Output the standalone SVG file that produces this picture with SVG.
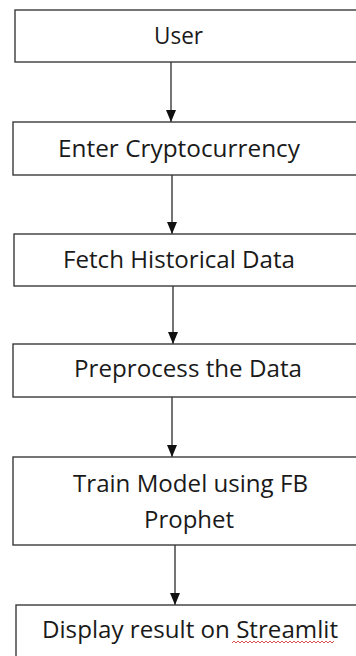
<svg xmlns="http://www.w3.org/2000/svg" width="356" height="656" viewBox="0 0 356 656">
<style>
.box{fill:#fff;stroke:#3a3a3a;stroke-width:1.4}
.lbl{font-family:"Open Sans","Noto Sans","Liberation Sans",sans-serif;font-size:23px;fill:#1a1a1a}
.edge{stroke:#2a2a2a;stroke-width:1.3;fill:none}
</style>
<defs>
<marker id="ah" markerWidth="12" markerHeight="10" refX="12" refY="5" orient="auto" markerUnits="userSpaceOnUse" viewBox="0 0 12 10">
<path d="M0,0 L12,5 L0,10 z" fill="#111"/>
</marker>
</defs>
<rect width="356" height="656" fill="#fff"/>
<g id="connectors">
<line class="edge" x1="171" y1="62" x2="171" y2="122" marker-end="url(#ah)"/>
<line class="edge" x1="172" y1="175" x2="172" y2="234" marker-end="url(#ah)"/>
<line class="edge" x1="173" y1="286" x2="173" y2="344" marker-end="url(#ah)"/>
<line class="edge" x1="172" y1="397" x2="172" y2="457" marker-end="url(#ah)"/>
<line class="edge" x1="175" y1="545" x2="175" y2="605" marker-end="url(#ah)"/>
</g>
<g id="n1">
<rect class="box" x="15" y="10" width="360" height="52"/>
<text class="lbl" x="154" y="44" textLength="49" lengthAdjust="spacingAndGlyphs">User</text>
</g>
<g id="n2">
<rect class="box" x="13" y="122" width="360" height="53"/>
<text class="lbl" x="58" y="157" textLength="242" lengthAdjust="spacingAndGlyphs">Enter Cryptocurrency</text>
</g>
<g id="n3">
<rect class="box" x="14" y="234" width="360" height="52"/>
<text class="lbl" x="63" y="268" textLength="232" lengthAdjust="spacingAndGlyphs">Fetch Historical Data</text>
</g>
<g id="n4">
<rect class="box" x="13" y="344" width="360" height="53"/>
<text class="lbl" x="74" y="377" textLength="228" lengthAdjust="spacingAndGlyphs">Preprocess the Data</text>
</g>
<g id="n5">
<rect class="box" x="13" y="457" width="360" height="88"/>
<text class="lbl" x="73" y="492" textLength="235" lengthAdjust="spacingAndGlyphs">Train Model using FB</text>
<text class="lbl" x="144" y="528" textLength="90" lengthAdjust="spacingAndGlyphs">Prophet</text>
</g>
<g id="n6">
<rect class="box" x="16" y="605" width="360" height="80"/>
<text class="lbl" x="42" y="638" textLength="296" lengthAdjust="spacingAndGlyphs">Display result on Streamlit</text>
<path d="M232,643 l2,-2 l2,2 l2,-2 l2,2 l2,-2 l2,2 l2,-2 l2,2 l2,-2 l2,2 l2,-2 l2,2 l2,-2 l2,2 l2,-2 l2,2 l2,-2 l2,2 l2,-2 l2,2 l2,-2 l2,2 l2,-2 l2,2 l2,-2 l2,2 l2,-2 l2,2 l2,-2 l2,2 l2,-2 l2,2 l2,-2 l2,2 l2,-2 l2,2 l2,-2 l2,2 l2,-2 l2,2 l2,-2 l2,2 l2,-2 l2,2 l2,-2 l2,2 l2,-2 l2,2 l2,-2 l2,2 l2,-2" fill="none" stroke="#d04040" stroke-width="0.9"/>
</g>
</svg>
